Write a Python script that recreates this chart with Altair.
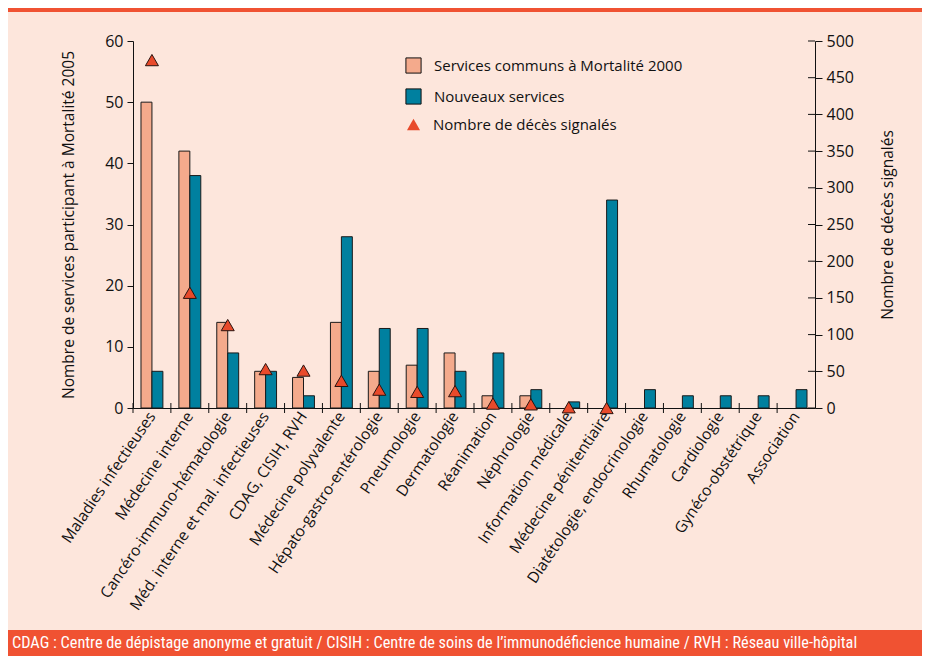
import altair as alt
import pandas as pd

categories = [
    "Maladies infectieuses", "Médecine interne", "Cancéro-immuno-hématologie",
    "Méd. interne et mal. infectieuses", "CDAG, CISIH, RVH", "Médecine polyvalente",
    "Hépato-gastro-entérologie", "Pneumologie", "Dermatologie", "Réanimation",
    "Néphrologie", "Information médicale", "Médecine pénitentiaire",
    "Diatétologie, endocrinologie", "Rhumatologie", "Cardiologie",
    "Gynéco-obstétrique", "Association",
]
communs_2000 = [50, 42, 14, 6, 5, 14, 6, 7, 9, 2, 2, 0, 0, 0, 0, 0, 0, 0]
nouveaux = [6, 38, 9, 6, 2, 28, 13, 13, 6, 9, 3, 1, 34, 3, 2, 2, 2, 3]
deces = [474, 157, 113, 53, 51, 37, 25, 22, 23, 6, 5, 1, 0, None, None, None, None, None]

series_names = ["Services communs à Mortalité 2000", "Nouveaux services"]
deces_label = "Nombre de décès signalés"
left_ticks = [0, 10, 20, 30, 40, 50, 60]
right_ticks = [0, 50, 100, 150, 200, 250, 300, 350, 400, 450, 500]
footer_text = ("CDAG : Centre de dépistage anonyme et gratuit  /  CISIH : Centre de soins de "
               "l’immunodéficience humaine  /  RVH : Réseau ville-hôpital")

BG = "#FDE6DC"
ORANGE = "#F05232"
FONT = "Open Sans"
W, H = 682, 367
PAD_L, PAD_T = 125, 33
TOTAL_W, TOTAL_H = 914, 648

rows = []
for c, a, b in zip(categories, communs_2000, nouveaux):
    if a > 0:
        rows.append({"cat": c, "serie": series_names[0], "val": a})
    if b > 0:
        rows.append({"cat": c, "serie": series_names[1], "val": b})
bars_df = pd.DataFrame(rows)
deaths_df = pd.DataFrame([{"cat": c, "deces": d, "lab": deces_label}
                          for c, d in zip(categories, deces) if d is not None])
cat_df = pd.DataFrame({"cat": categories})
rt_df = pd.DataFrame({"t": right_ticks})
one = pd.DataFrame({"a": [0]})

xscale = alt.Scale(domain=categories, paddingInner=0, paddingOuter=0)

footer_band = alt.Chart(one).mark_rect(color=ORANGE).encode(
    x=alt.value(-PAD_L), x2=alt.value(TOTAL_W - PAD_L),
    y=alt.value(630 - 8 - PAD_T), y2=alt.value(TOTAL_H - PAD_T))
top_band = alt.Chart(one).mark_rect(color=ORANGE).encode(
    x=alt.value(-PAD_L), x2=alt.value(TOTAL_W - PAD_L),
    y=alt.value(-PAD_T), y2=alt.value(-PAD_T + 4))
footer = alt.Chart(one).mark_text(
    color="white", align="left", baseline="middle", fontSize=16.3,
    font="Liberation Sans Narrow, Roboto Condensed, Open Sans").encode(
    x=alt.value(4 - PAD_L), y=alt.value(643 - 8 - PAD_T), text=alt.value(footer_text))

bars = alt.Chart(bars_df).mark_bar(stroke="#1a1a1a", strokeWidth=1).encode(
    x=alt.X("cat:N", sort=categories, scale=xscale, title=None,
            axis=alt.Axis(labelAngle=-56, labelFontSize=15.5, labelFont=FONT, labelColor="#111",
                          ticks=False, domainColor="#111", labelPadding=5, labelLimit=400)),
    xOffset=alt.XOffset("serie:N", scale=alt.Scale(domain=series_names, paddingInner=0, paddingOuter=0.73)),
    y=alt.Y("val:Q", scale=alt.Scale(domain=[0, 60]),
            title="Nombre de services participant à Mortalité 2005",
            axis=alt.Axis(values=left_ticks, grid=False, tickSize=6, tickColor="#111",
                          domainColor="#111", labelFontSize=16, labelFont=FONT, labelColor="#111",
                          labelPadding=4, titleFont=FONT, titleFontSize=15.5, titleFontWeight="normal",
                          titleColor="#111", titlePadding=28)),
    color=alt.Color("serie:N", scale=alt.Scale(domain=series_names, range=["#F4AA8C", "#00809F"]),
                    legend=alt.Legend(orient="none", legendX=272, legendY=16, title=None,
                                      symbolType="square", symbolSize=230, symbolStrokeColor="#111",
                                      symbolStrokeWidth=1, labelFontSize=15, labelFont=FONT,
                                      labelColor="#111", labelOffset=12, rowPadding=10, padding=0,
                                      labelLimit=500)),
)

tri = alt.Chart(deaths_df).mark_point(filled=True, size=170, stroke="#2a1410", strokeWidth=1,
                                      opacity=1, color="#E84A2B").encode(
    x=alt.X("cat:N", sort=categories, scale=xscale),
    y=alt.Y("deces:Q", scale=alt.Scale(domain=[0, 500]), title=deces_label,
            axis=alt.Axis(orient="right", values=right_ticks, grid=False, tickSize=7, tickColor="#111",
                          domainColor="#111", labelFontSize=16, labelFont=FONT, labelColor="#111",
                          labelPadding=4, titleFont=FONT, titleFontSize=15.5, titleFontWeight="normal",
                          titleColor="#111", titlePadding=42, titleAngle=-90)),
    shape=alt.Shape("lab:N", scale=alt.Scale(domain=[deces_label], range=["triangle-up"]),
                    legend=alt.Legend(orient="none", legendX=273, legendY=76, title=None,
                                      symbolSize=170, symbolFillColor="#E84A2B",
                                      symbolStrokeColor="#2a1410", symbolStrokeWidth=1,
                                      labelFontSize=15, labelFont=FONT, labelColor="#111",
                                      labelOffset=12, padding=0, labelLimit=500)),
)

xticks = alt.Chart(cat_df).mark_rule(color="#111", strokeWidth=1).encode(
    x=alt.X("cat:N", sort=categories, scale=xscale, bandPosition=0),
    y=alt.value(H - 5), y2=alt.value(H + 5))

rticks = alt.Chart(rt_df).mark_rule(color="#111", strokeWidth=1).encode(
    y=alt.Y("t:Q", scale=alt.Scale(domain=[0, 500]), axis=None),
    x=alt.value(W - 7), x2=alt.value(W))

chart = alt.layer(footer_band, top_band, footer, bars, tri, xticks, rticks).resolve_scale(
    y="independent", color="independent", shape="independent"
).properties(
    width=W, height=H, background=BG,
    autosize=alt.AutoSizeParams(type="none"),
    padding={"left": PAD_L, "top": PAD_T, "right": TOTAL_W - PAD_L - W, "bottom": TOTAL_H - PAD_T - H},
).configure_view(stroke=None)

chart.save("out.html", embed_options={"renderer": "svg", "actions": False})
